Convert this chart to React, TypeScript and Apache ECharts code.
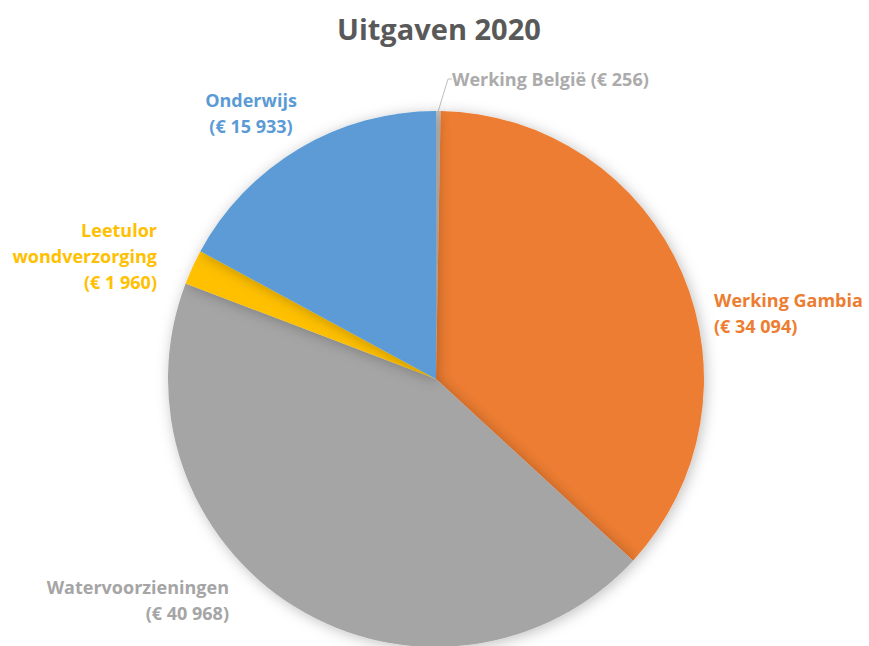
import React, { useEffect, useRef } from "react";
import * as echarts from "echarts";

const title = "Uitgaven 2020";
const categories = ["Werking België", "Werking Gambia", "Watervoorzieningen", "Leetulor wondverzorging", "Onderwijs"];
const labelLines = [
  ["Werking België (€ 256)"],
  ["Werking Gambia", "(€ 34 094)"],
  ["Watervoorzieningen", "(€ 40 968)"],
  ["Leetulor", "wondverzorging", "(€ 1 960)"],
  ["Onderwijs", "(€ 15 933)"],
];
const values = [256, 34094, 40968, 1960, 15933];
const colors = ["#C9C9C9", "#ED7D31", "#A5A5A5", "#FFC000", "#5B9BD5"];
const labelColors = ["#ABABAB", "#ED7D31", "#A5A5A5", "#FFC000", "#5B9BD5"];

// label anchor positions (layout only)
const labelPos: { x: number; y: number; align: string }[] = [
  { x: 452, y: 79, align: "left" },
  { x: 714, y: 313, align: "left" },
  { x: 229, y: 600, align: "right" },
  { x: 157, y: 256, align: "right" },
  { x: 251, y: 113, align: "center" },
];

export default function App() {
  const ref = useRef<HTMLDivElement>(null);
  useEffect(() => {
    if (!ref.current) return;
    const chart = echarts.init(ref.current, null, { renderer: "svg" });
    chart.setOption({
      animation: false,
      backgroundColor: "#ffffff",
      title: {
        text: title,
        left: 332,
        top: 9,
        textStyle: {
          fontFamily: "Open Sans",
          fontWeight: "bold",
          fontSize: 29,
          color: "#595959",
        },
      },
      series: [
        {
          type: "pie",
          center: [436, 379],
          radius: 268,
          startAngle: 90,
          clockwise: true,
          avoidLabelOverlap: false,
          itemStyle: {
            shadowBlur: 14,
            shadowColor: "rgba(0,0,0,0.25)",
            shadowOffsetX: 2,
            shadowOffsetY: 2,
          },
          label: {
            show: true,
            position: "outside",
            fontFamily: "Open Sans",
            fontWeight: "bold",
            fontSize: 18,
            lineHeight: 26,
            formatter: (p: any) => labelLines[p.dataIndex].join("\n"),
          },
          labelLine: { show: false },
          labelLayout: (p: any) => {
            const lp = labelPos[p.dataIndex];
            return { x: lp.x, y: lp.y, align: lp.align, verticalAlign: "middle" };
          },
          data: categories.map((name, i) => ({
            name,
            value: values[i],
            itemStyle: { color: colors[i] },
            label: { color: labelColors[i] },
            labelLine:
              i === 0
                ? { show: true, length: 8, length2: 4, lineStyle: { color: "#BFBFBF", width: 1 } }
                : { show: false },
          })),
        },
      ],
    });
    return () => chart.dispose();
  }, []);
  return (
    <div
      ref={ref}
      style={{ position: "fixed", left: 0, top: 0, width: 869, height: 646 }}
    />
  );
}
